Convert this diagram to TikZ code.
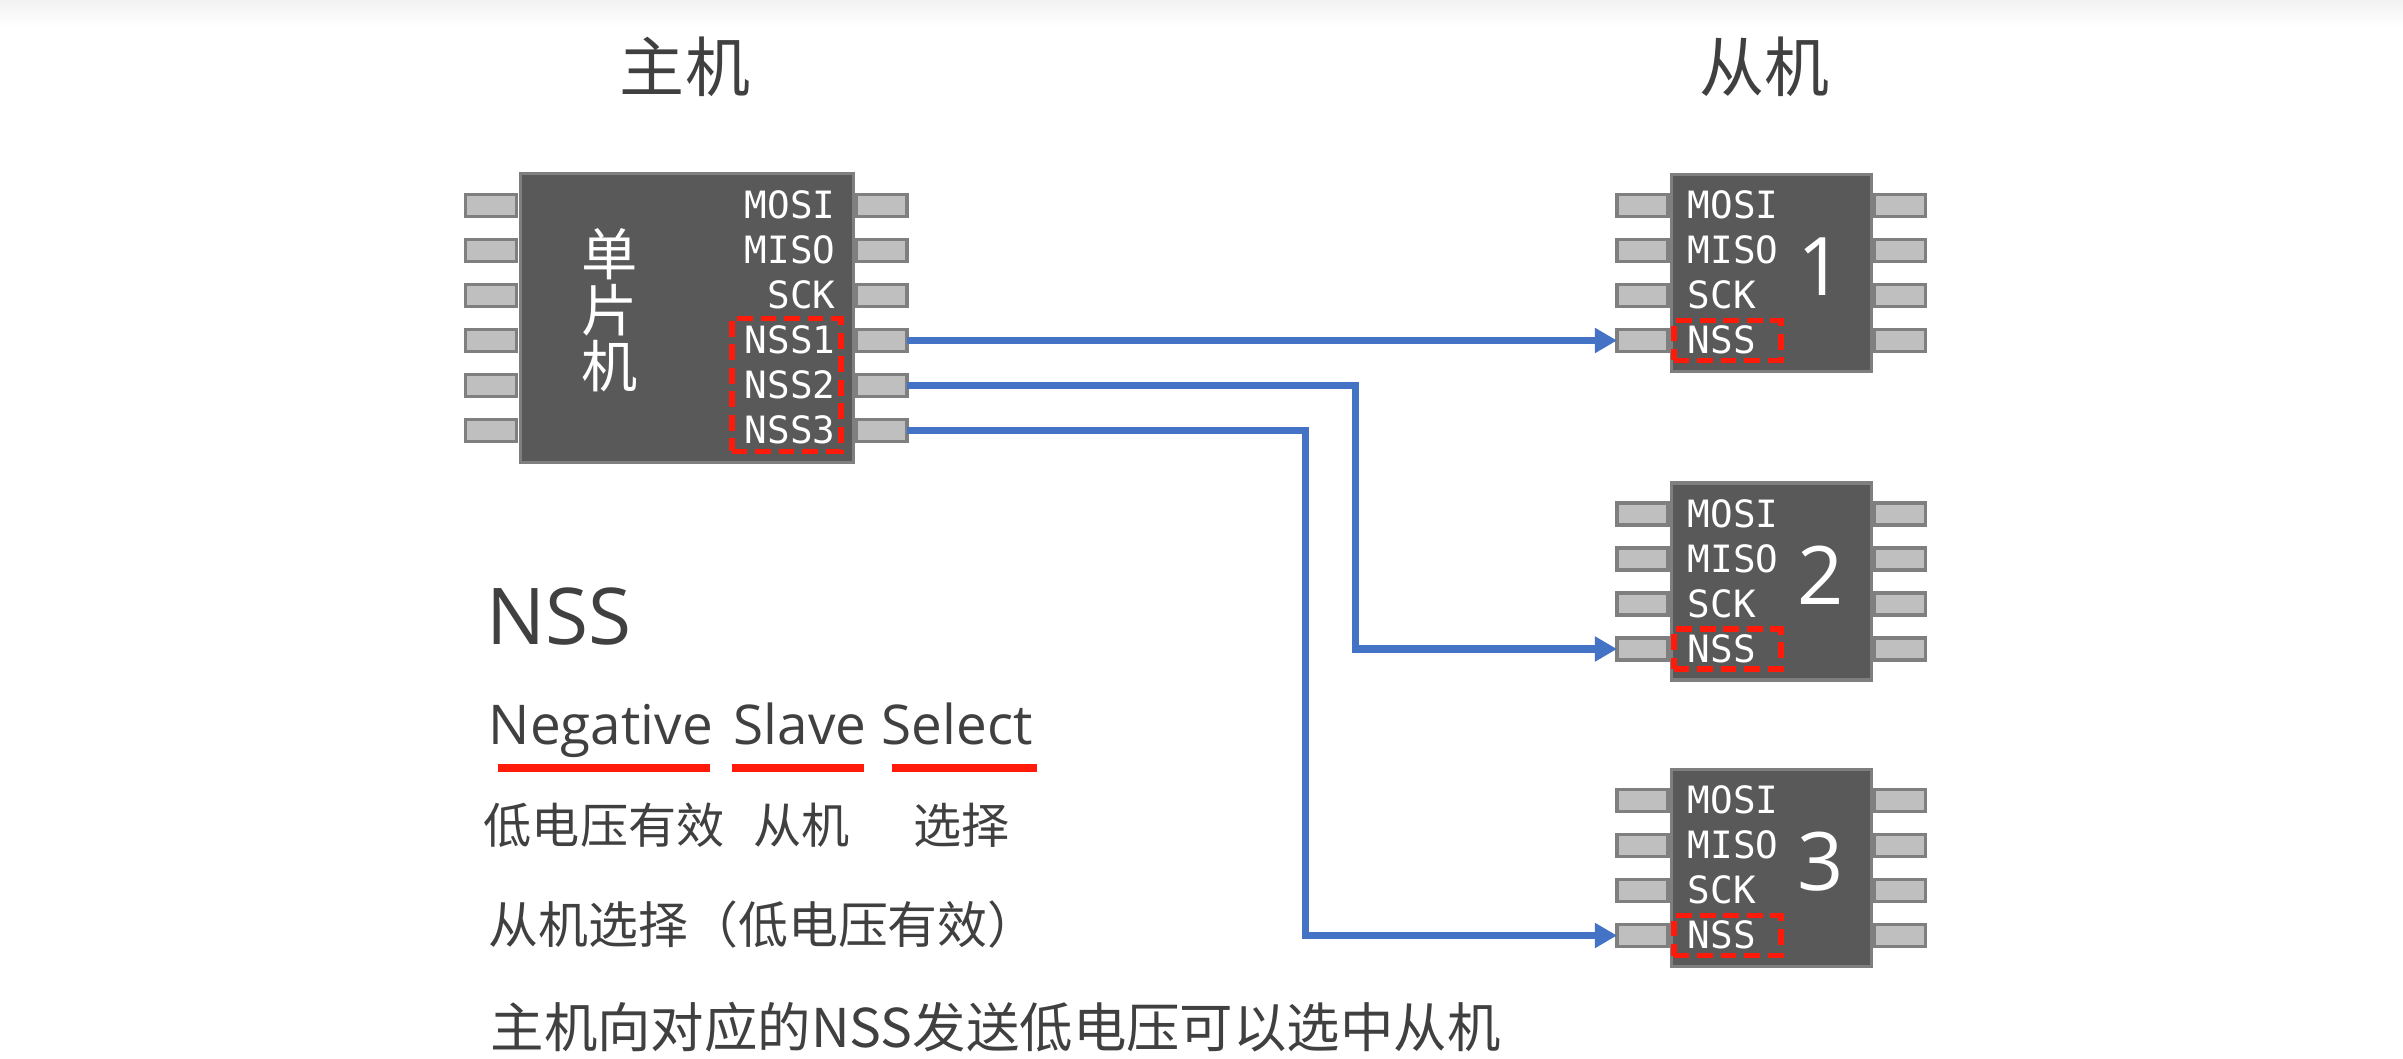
\documentclass[tikz,border=0pt]{standalone}
\usepackage{fontspec}
\newfontfamily\cjk{Noto Sans CJK SC}
\newfontfamily\latf{Open Sans}
\newfontfamily\monof{DejaVu Sans Mono}
\usetikzlibrary{arrows.meta}
\definecolor{chipfill}{HTML}{595959}
\definecolor{chipline}{HTML}{7F7F7F}
\definecolor{pinfill}{HTML}{BFBFBF}
\definecolor{wireblue}{HTML}{4472C4}
\definecolor{txt}{HTML}{404040}
\definecolor{nssred}{HTML}{FF1A0A}
\begin{document}
\begin{tikzpicture}[x=0.1mm,y=-0.1mm,
  chipbody/.style={draw=chipline, fill=chipfill, line width=0.9pt, inner sep=0pt, outer sep=0pt},
  pinbox/.style={draw=chipline, fill=pinfill, line width=0.9pt, inner sep=0pt, outer sep=0pt, minimum width=5.1mm, minimum height=2.2mm},
  pinlbl/.style={font=\monof\fontsize{10.7pt}{12pt}\selectfont, text=white, inner sep=0pt},
  numlbl/.style={font=\latf\fontsize{23pt}{26pt}\selectfont, text=white, inner sep=0pt},
  nssbox/.style={draw=nssred, line width=1.7pt, dash pattern=on 4.5pt off 2.2pt, inner sep=0pt, outer sep=0pt},
  wire/.style={draw=wireblue, line width=2pt, -{Triangle[length=6.3pt,width=6.8pt]}},
  title/.style={font=\cjk\fontsize{18.5pt}{22pt}\selectfont, text=txt, inner sep=0pt},
  uline/.style={draw=nssred, line width=2.3pt},
]
\useasboundingbox (0,0) rectangle (2403,1059);
\fill[white] (0,0) rectangle (2403,1059);
\shade[top color=black!5, bottom color=white] (0,0) rectangle (2403,28);

% titles
\node[title] (mtitle) at (685,67) {主机};
\node[title] (stitle) at (1764,67) {从机};

% master chip
\foreach \i/\y in {1/205.5,2/250.5,3/295.5,4/340.5,5/385.5,6/430.5} {
  \node[pinbox] (mL\i) at (491,\y) {};
  \node[pinbox] (mR\i) at (881.5,\y) {};
}
\node[chipbody, minimum width=33.3mm, minimum height=28.9mm] (master) at (687,318) {};
\node[font=\cjk\fontsize{16pt}{15.9pt}\selectfont, text=white, align=center, inner sep=0pt] (mcu) at (610,310) {单\\片\\机};
\foreach \i/\y/\t in {1/205.5/MOSI,2/250.5/MISO,3/295.5/SCK,4/340.5/NSS1,5/385.5/NSS2,6/430.5/NSS3} {
  \node[pinlbl, anchor=base east] (mT\i) at (836,\y+13) {\t};
}
\node[nssbox, minimum width=10.9mm, minimum height=13.3mm] (mnss) at (786,385) {};

% slave chips
\foreach \s/\cy in {1/273,2/581.5,3/868} {
  \foreach \k/\t in {1/MOSI,2/MISO,3/SCK,4/NSS} {
    \pgfmathsetmacro\py{\cy+(\k-2.5)*45}
    \node[pinbox] (s\s-L\k) at (1642.5,\py) {};
    \node[pinbox] (s\s-R\k) at (1900,\py) {};
  }
  \node[chipbody, minimum width=20.0mm, minimum height=19.7mm] (s\s) at (1771.5,\cy) {};
  \foreach \k/\t in {1/MOSI,2/MISO,3/SCK,4/NSS} {
    \pgfmathsetmacro\py{\cy+(\k-2.5)*45}
    \node[pinlbl, anchor=base west] (s\s-T\k) at (1687,\py+13) {\t};
  }
  \node[numlbl] (s\s-num) at (1821,\cy-6) {\s};
  \node[nssbox, minimum width=10.7mm, minimum height=4.0mm] (s\s-nss) at (1727,\cy+67.5) {};
}

% connectors
\coordinate (bend2) at (1355,0);
\coordinate (bend3) at (1305,0);
\draw[wire] (mR4.east) -- (s1-L4.west);
\draw[wire] (mR5.east) -- (mR5.east -| bend2) |- (s2-L4.west);
\draw[wire] (mR6.east) -- (mR6.east -| bend3) |- (s3-L4.west);

% lower text
\node[anchor=base west, font=\latf\fontsize{22.3pt}{26pt}\selectfont, text=txt, inner sep=0pt] (nsst) at (486,644) {NSS};
\node[anchor=base west, font=\latf\fontsize{15.6pt}{18pt}\selectfont, text=txt, inner sep=0pt] (w1) at (488,744) {Negative};
\node[anchor=base west, font=\latf\fontsize{15.6pt}{18pt}\selectfont, text=txt, inner sep=0pt] (w2) at (733,744) {Slave};
\node[anchor=base west, font=\latf\fontsize{15.6pt}{18pt}\selectfont, text=txt, inner sep=0pt] (w3) at (881,744) {Select};
\draw[uline] (498,768) -- (710,768);
\draw[uline] (732,768) -- (864,768);
\draw[uline] (892,768) -- (1037,768);

\node[anchor=west, font=\cjk\fontsize{13.7pt}{16pt}\selectfont, text=txt, inner sep=0pt] (c1) at (483,825) {低电压有效};
\node[anchor=west, font=\cjk\fontsize{13.7pt}{16pt}\selectfont, text=txt, inner sep=0pt] (c2) at (753,825) {从机};
\node[anchor=west, font=\cjk\fontsize{13.7pt}{16pt}\selectfont, text=txt, inner sep=0pt] (c3) at (913,825) {选择};
\node[anchor=west, font=\cjk\fontsize{14.2pt}{17pt}\selectfont, text=txt, inner sep=0pt] (l3) at (488,925) {从机选择（低电压有效）};
\node[anchor=west, font=\cjk\fontsize{15.2pt}{18pt}\selectfont, text=txt, inner sep=0pt] (l4) at (490,1027) {主机向对应的NSS发送低电压可以选中从机};
\end{tikzpicture}
\end{document}
